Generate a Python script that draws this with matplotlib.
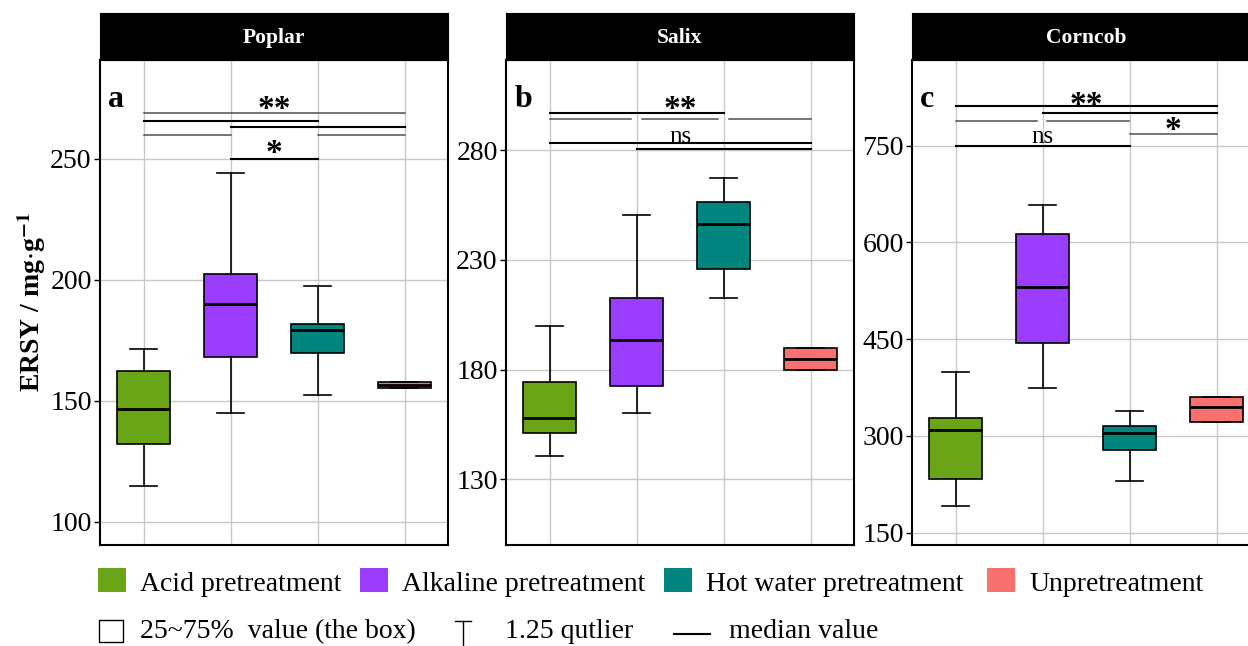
import matplotlib
matplotlib.use('Agg')
import matplotlib.pyplot as plt
from matplotlib.patches import Rectangle
from matplotlib.lines import Line2D

plt.rcParams['font.family'] = ['Liberation Serif', 'DejaVu Serif']
plt.rcParams['mathtext.fontset'] = 'stix'

# data
panels = ['Poplar', 'Salix', 'Corncob']
panel_tags = ['a', 'b', 'c']
treatments = ['Acid pretreatment', 'Alkaline pretreatment',
              'Hot water pretreatment', 'Unpretreatment']
colors = ['#6AA517', '#9B3CFF', '#00857F', '#F8716F']

whis_low = [[115.0, 145.0, 152.4, 155.3],
            [140.7, 160.1, 212.8, 179.9],
            [191.7, 373.9, 229.9, 321.7]]
q1 = [[132.1, 168.2, 169.7, 155.3],
      [151.1, 172.4, 225.8, 179.9],
      [233.1, 444.0, 278.8, 321.7]]
med = [[146.8, 190.2, 179.3, 156.7],
       [157.8, 193.4, 246.3, 184.9],
       [309.8, 530.9, 303.8, 344.0]]
q3 = [[162.4, 202.3, 181.7, 157.9],
      [174.5, 212.5, 256.4, 189.7],
      [328.2, 613.0, 315.7, 360.4]]
whis_high = [[171.5, 244.2, 197.5, 157.9],
             [199.8, 250.2, 267.1, 189.7],
             [399.5, 657.6, 338.5, 360.4]]

y_limits = [(90.5, 290.8), (100.1, 321.0), (130.8, 882.6)]
y_ticks = [[100, 150, 200, 250], [130, 180, 230, 280], [150, 300, 450, 600, 750]]

# significance brackets: (from, to, y, tone)  k = black, g = grey
sig_lines = [
    [(1, 4, 269.0, 'g'), (1, 3, 265.8, 'k'), (2, 4, 263.0, 'k'),
     (1, 2, 259.9, 'g'), (3, 4, 259.9, 'g'), (2, 3, 250.0, 'k')],
    [(1, 3, 297.0, 'k'), (1, 1.94, 294.1, 'g'), (2.06, 2.94, 294.1, 'g'),
     (3.06, 4, 294.1, 'g'), (1, 4, 283.3, 'k'), (2, 4, 280.3, 'k')],
    [(1, 4, 810.9, 'k'), (2, 4, 800.1, 'k'), (1, 1.94, 788.1, 'g'),
     (2.05, 2.99, 788.1, 'g'), (3, 4, 767.5, 'g'), (1, 3, 750.0, 'k')],
]
sig_text = [
    [(2.5, 267.0, '**'), (2.5, 248.8, '*')],
    [(2.5, 294.8, '**'), (2.5, 283.3, 'ns')],
    [(2.5, 798.4, '**'), (3.5, 759.7, '*'), (2.0, 754.5, 'ns')],
]

W, H = 1248, 646
fig = plt.figure(figsize=(W / 100, H / 100), dpi=100)

lefts = [100, 506, 912]
ax_w, top, bottom = 348, 60, 545

for i, name in enumerate(panels):
    ax = fig.add_axes([lefts[i] / W, 1 - bottom / H, ax_w / W, (bottom - top) / H])
    stats = []
    for j in range(4):
        stats.append(dict(whislo=whis_low[i][j], q1=q1[i][j], med=med[i][j],
                          q3=q3[i][j], whishi=whis_high[i][j], fliers=[]))
    bp = ax.bxp(stats, positions=[1, 2, 3, 4], widths=0.6, capwidths=0.3,
                patch_artist=True, showfliers=False,
                boxprops=dict(edgecolor='black', linewidth=1.2),
                medianprops=dict(color='black', linewidth=2.0),
                whiskerprops=dict(color='black', linewidth=1.2),
                capprops=dict(color='black', linewidth=1.2))
    for patch, c in zip(bp['boxes'], colors):
        patch.set_facecolor(c)
    for item in bp['boxes'] + bp['medians'] + bp['whiskers'] + bp['caps']:
        item.set_zorder(3)

    for x1, x2, y, tone in sig_lines[i]:
        if tone == 'k':
            ax.plot([x1, x2], [y, y], color='black', lw=1.5, zorder=4)
        else:
            ax.plot([x1, x2], [y, y], color='#4f4f4f', lw=1.1, zorder=4)
    for x, y, s in sig_text[i]:
        if s == 'ns':
            ax.text(x, y, s, ha='center', va='baseline', fontsize=18, zorder=5)
        else:
            ax.text(x, y, s, ha='center', va='baseline', fontsize=24,
                    fontweight='bold', zorder=5)

    ax.set_xlim(0.5, 4.5)
    ax.set_ylim(*y_limits[i])
    ax.set_yticks(y_ticks[i])
    ax.set_xticks([1, 2, 3, 4])
    ax.set_xticklabels([])
    ax.tick_params(axis='x', length=0)
    ax.tick_params(axis='y', length=4, width=1, labelsize=20, pad=2)
    ax.grid(True, color='#c8c8c8', lw=1)
    ax.set_axisbelow(True)
    for sp in ax.spines.values():
        sp.set_linewidth(1.5)
        sp.set_color('black')
    ax.text(0.024, 0.904, panel_tags[i], transform=ax.transAxes,
            fontsize=23, fontweight='bold', va='baseline', ha='left')

    strip = fig.add_axes([lefts[i] / W, 1 - top / H, ax_w / W, 47 / H])
    strip.set_facecolor('black')
    strip.set_xticks([])
    strip.set_yticks([])
    strip.text(0.5, 0.47, name, color='white', fontsize=15.5, fontweight='bold',
               ha='center', va='center', transform=strip.transAxes)

    if i == 0:
        ax.set_ylabel(r'ERSY / mg$\cdot$g$^{\mathbf{-1}}$', fontsize=20,
                      fontweight='bold', labelpad=1.5)


# legend, first row
sq_x = [98, 360, 664, 987]
for x, c, lab in zip(sq_x, colors, treatments):
    fig.add_artist(Rectangle((x / W, 1 - 592 / H), 28 / W, 24 / H,
                             transform=fig.transFigure, facecolor=c,
                             edgecolor='none'))
    fig.text((x + 42) / W, 1 - 590.7 / H, lab, fontsize=20, va='baseline')

# legend, second row
fig.add_artist(Rectangle((98.5 / W, 1 - 642 / H), 24 / W, 22 / H,
                         transform=fig.transFigure, facecolor='white',
                         edgecolor='black', linewidth=1))
fig.text(140 / W, 1 - 638 / H, '25~75%  value (the box)', fontsize=20,
         va='baseline')
fig.add_artist(Line2D([463 / W, 463 / W], [1 - 621 / H, 1 - 646 / H],
                      transform=fig.transFigure, color='black', lw=1))
fig.add_artist(Line2D([455 / W, 471 / W], [1 - 621 / H, 1 - 621 / H],
                      transform=fig.transFigure, color='black', lw=1))
fig.text(505 / W, 1 - 638 / H, '1.25 qutlier', fontsize=20, va='baseline')
fig.add_artist(Line2D([674 / W, 710 / W], [1 - 634 / H, 1 - 634 / H],
                      transform=fig.transFigure, color='black', lw=1.5))
fig.text(729 / W, 1 - 638 / H, 'median value', fontsize=20, va='baseline')

fig.savefig('out.png', dpi=100)
